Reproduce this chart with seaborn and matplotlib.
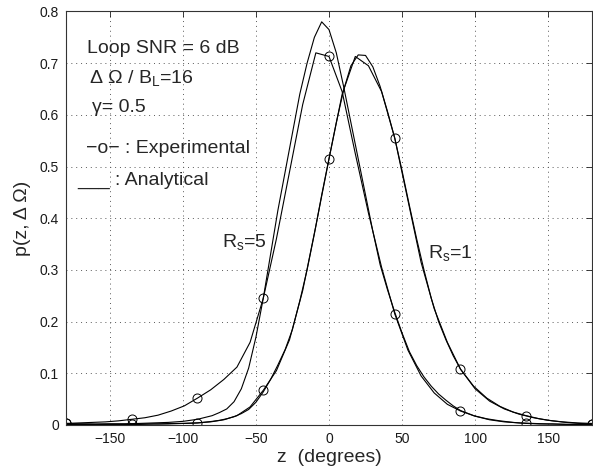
import numpy as np
import pandas as pd
import seaborn as sns
import matplotlib.pyplot as plt

# analytical curves
z_an = [-180, -170, -160, -150, -140, -130, -120, -110, -100, -90, -80,
        -75, -70, -65, -60, -55, -50, -45, -40, -35, -30, -25, -20, -15, -10, -5,
        0, 5, 10, 15, 20, 25, 30, 35, 40, 45, 50, 55, 60, 65, 70, 75, 80, 85,
        90, 100, 110, 120, 130, 140, 150, 160, 170, 180]
p_an_rs5 = [0.001, 0.001, 0.001, 0.002, 0.002, 0.003, 0.004, 0.005, 0.007, 0.011, 0.018,
            0.024, 0.031, 0.045, 0.07, 0.11, 0.17, 0.245, 0.33, 0.415, 0.49, 0.565, 0.64, 0.70, 0.75, 0.78,
            0.765, 0.72, 0.655, 0.585, 0.515, 0.445, 0.375, 0.31, 0.262, 0.218, 0.178, 0.142, 0.115, 0.093,
            0.075, 0.06, 0.048, 0.037,
            0.028, 0.017, 0.01, 0.006, 0.004, 0.003, 0.002, 0.0015, 0.001, 0.001]
p_an_rs1 = [0.002, 0.002, 0.001, 0.001, 0.001, 0.001, 0.002, 0.002, 0.003, 0.004, 0.007,
            0.009, 0.012, 0.016, 0.022, 0.03, 0.044, 0.064, 0.088, 0.116, 0.146, 0.185, 0.24, 0.30, 0.37, 0.445,
            0.515, 0.585, 0.648, 0.695, 0.716, 0.715, 0.693, 0.655, 0.607, 0.555, 0.492, 0.425, 0.36, 0.30,
            0.245, 0.20, 0.165, 0.134,
            0.108, 0.07, 0.046, 0.031, 0.021, 0.014, 0.009, 0.006, 0.004, 0.003]

# experimental histograms, 9 degree bins, circles every 45 degrees
z_exp = np.arange(-180, 181, 9)
p_exp_rs5 = [0.003, 0.004, 0.005, 0.006, 0.008, 0.011, 0.014, 0.019, 0.027, 0.037,
             0.052, 0.068, 0.088, 0.112, 0.160, 0.245, 0.36, 0.49, 0.62, 0.72,
             0.713, 0.645, 0.525, 0.41, 0.305, 0.215, 0.145, 0.095, 0.062, 0.04,
             0.027, 0.018, 0.012, 0.008, 0.005, 0.003, 0.002, 0.002, 0.001, 0.001, 0.001]
p_exp_rs1 = [0.003, 0.002, 0.002, 0.002, 0.002, 0.002, 0.002, 0.002, 0.003, 0.003,
             0.004, 0.006, 0.01, 0.018, 0.035, 0.067, 0.105, 0.165, 0.26, 0.385,
             0.515, 0.64, 0.713, 0.695, 0.645, 0.555, 0.435, 0.315, 0.225, 0.16,
             0.108, 0.075, 0.052, 0.036, 0.025, 0.018, 0.012, 0.008, 0.005, 0.003, 0.002]

x_ticks = [-150, -100, -50, 0, 50, 100, 150]
y_ticks = [0, 0.1, 0.2, 0.3, 0.4, 0.5, 0.6, 0.7, 0.8]

sns.set_style('white')
plt.rcParams['font.family'] = ['Liberation Sans', 'DejaVu Sans']
plt.rcParams['mathtext.fontset'] = 'custom'
plt.rcParams['mathtext.rm'] = 'Liberation Sans'
plt.rcParams['mathtext.it'] = 'Liberation Sans:italic'

fig = plt.figure(figsize=(5.93, 4.75), dpi=100)
ax = fig.add_axes([0.1113, 0.1053, 0.887, 0.8705])

for p in [p_an_rs5, p_an_rs1]:
    sns.lineplot(x=z_an, y=p, color='k', lw=0.8, ax=ax, estimator=None, sort=False)

for p in [p_exp_rs5, p_exp_rs1]:
    sns.lineplot(x=z_exp, y=p, color='k', lw=0.8, ax=ax, estimator=None, sort=False,
                 marker='o', markevery=5, markersize=6.5, markerfacecolor='none',
                 markeredgecolor='k', markeredgewidth=0.7)

ax.set_xlim(-180, 180)
ax.set_ylim(0, 0.8)
ax.set_xticks(x_ticks)
ax.set_yticks(y_ticks)
ax.set_yticklabels(['0', '0.1', '0.2', '0.3', '0.4', '0.5', '0.6', '0.7', '0.8'])
ax.set_xticklabels(['\u2212150', '\u2212100', '\u221250', '0', '50', '100', '150'])
ax.tick_params(direction='in', length=4, width=0.6, labelsize=10, pad=5,
               top=True, right=True, colors='0.1')
ax.grid(True, linestyle=(0, (1, 4)), color='0.35', lw=0.7)
for s in ax.spines.values():
    s.set_color('0.2')
    s.set_linewidth(0.8)

ax.set_xlabel('z  (degrees)', fontsize=14, labelpad=2)
ax.set_ylabel('p(z, \u0394 \u03a9)', fontsize=14, labelpad=6)

fs = 14
ax.text(-165.8, 0.719, 'Loop SNR = 6 dB', fontsize=fs, va='baseline')
ax.text(-164, 0.662, '\u0394 \u03a9 / B$_{\\rm L}$=16', fontsize=fs, va='baseline')
ax.text(-162.4, 0.606, '\u03b3= 0.5', fontsize=fs, va='baseline')
ax.text(-166.3, 0.526, '\u2212o\u2212 : Experimental', fontsize=fs, va='baseline')
ax.text(-172.3, 0.464, '___ : Analytical', fontsize=fs, va='baseline')
ax.text(-73.4, 0.345, 'R$_{\\rm s}$=5', fontsize=fs, va='baseline')
ax.text(67.5, 0.324, 'R$_{\\rm s}$=1', fontsize=fs, va='baseline')

plt.savefig('out.png', dpi=100)
